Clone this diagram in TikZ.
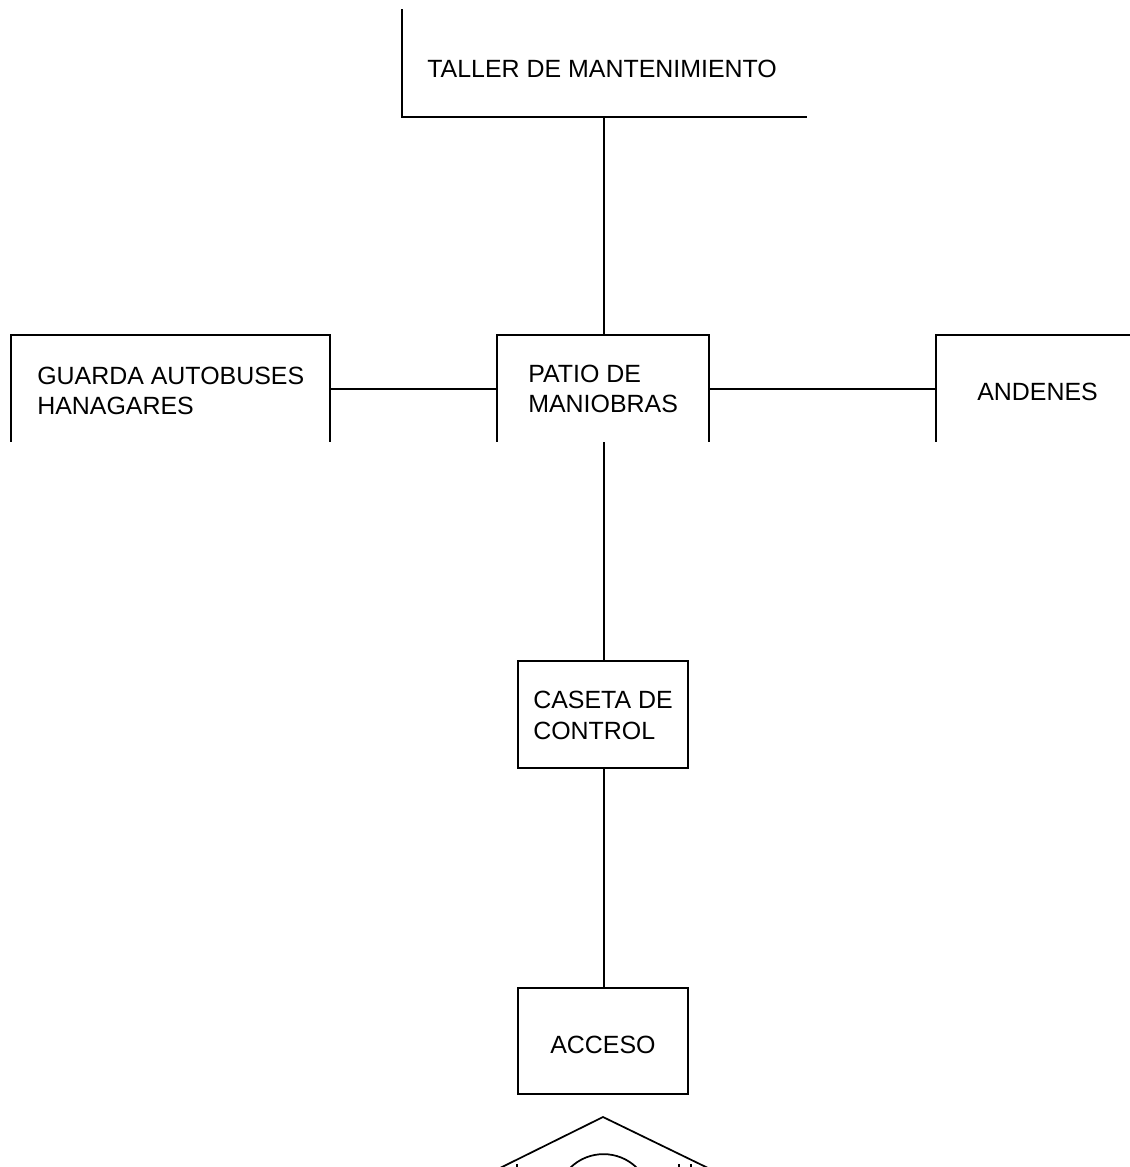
\documentclass[tikz,border=0pt]{standalone}
\usepackage{fontspec}
\setmainfont{Liberation Sans}
\begin{document}
\begin{tikzpicture}[x=0.75pt,y=-0.75pt,
  frame/.style={line width=1.7pt,line join=miter,line cap=rect},
  link/.style={line width=1.1pt},
  label/.style={anchor=base west,inner sep=0pt,font=\fontsize{18.7pt}{22pt}\selectfont}]
\useasboundingbox (0,0) rectangle (1129,1167);

% maintenance workshop (open frame: left and bottom edges)
\draw[frame] (402,10) -- (402,117) -- (806,117);
\coordinate (tallerB) at (604,117);
\node[label] (taller) at (427,77) {TALLER DE MANTENIMIENTO};

% bus storage / hangars
\draw[frame] (11,441) -- (11,335) -- (330,335) -- (330,441);
\coordinate (guardaR) at (330,389);
\node[label] (guarda1) at (37,384) {GUARDA AUTOBUSES};
\node[label] (guarda2) at (37,414) {HANAGARES};

% manoeuvring yard
\draw[frame] (497,441) -- (497,335) -- (709,335) -- (709,441);
\coordinate (patioT) at (604,335);
\coordinate (patioB) at (604,442);
\coordinate (patioL) at (497,389);
\coordinate (patioR) at (709,389);
\node[label] (patio1) at (528,382) {PATIO DE};
\node[label] (patio2) at (528,412) {MANIOBRAS};

% platforms
\draw[frame] (936,441) -- (936,335) -- (1129,335);
\coordinate (andenesL) at (936,389);
\node[label] (andenes) at (977,400) {ANDENES};

% control booth
\draw[frame] (518,661) rectangle (688,768);
\coordinate (casetaT) at (604,661);
\coordinate (casetaB) at (604,768);
\node[label] (caseta1) at (533,708) {CASETA DE};
\node[label] (caseta2) at (533,739) {CONTROL};

% access
\draw[frame] (518,988) rectangle (688,1094);
\coordinate (accesoT) at (604,988);
\node[label] (acceso) at (550,1053) {ACCESO};

% connectors
\draw[link] (tallerB) -- (patioT);
\draw[frame] (guardaR) -- (patioL);
\draw[frame] (patioR) -- (andenesL);
\draw[link] (patioB) -- (casetaT);
\draw[link] (casetaB) -- (accesoT);

% entrance canopy
\draw[line width=1.3pt,line join=miter] (500,1168) -- (603,1117) -- (708,1168);
\draw[line width=1.3pt] (570,1168) arc[start angle=225,end angle=315,radius=47.4];
\draw[line width=1pt] (517,1164) -- (517,1167);
\draw[line width=1pt] (679,1164) -- (679,1167);
\draw[line width=1pt] (691,1164) -- (691,1167);
\end{tikzpicture}
\end{document}
